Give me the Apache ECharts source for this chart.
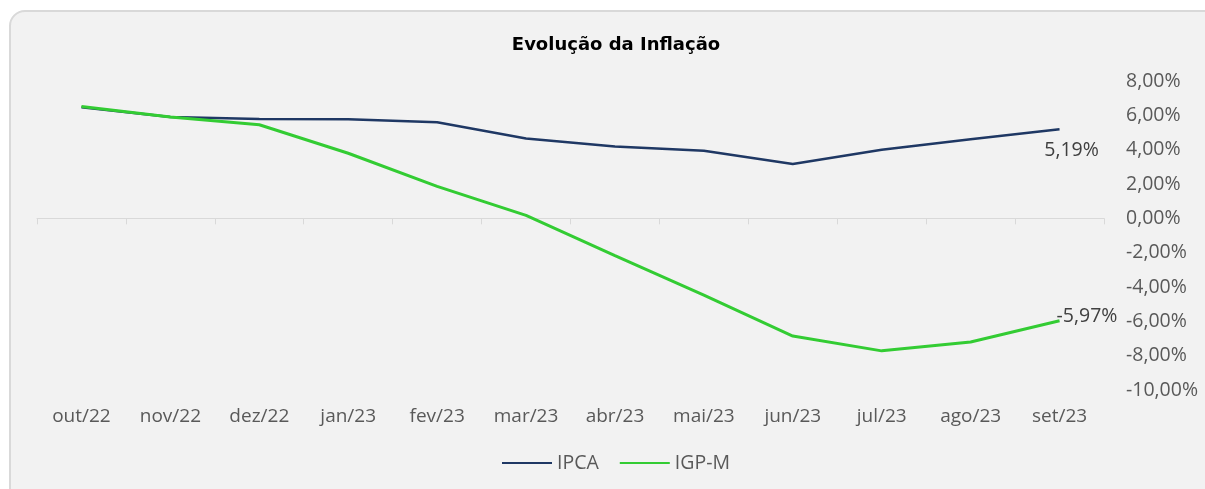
<!DOCTYPE html>
<html>
<head>
<meta charset="utf-8">
<script src="https://cdn.jsdelivr.net/npm/echarts@6/dist/echarts.min.js"></script>
<style>
  html, body { margin: 0; padding: 0; background: #fff; overflow: hidden; }
  .frame {
    position: absolute; left: 9px; top: 10px; width: 1220px; height: 500px;
    background: #f2f2f2; border: 2px solid #d9d9d9; border-radius: 16px;
    box-sizing: border-box;
  }
  #chart { position: absolute; left: 0; top: 0; width: 1205px; height: 489px; }
</style>
</head>
<body>
<div class="frame"></div>
<div id="chart"></div>
<script>
const months = ['out/22', 'nov/22', 'dez/22', 'jan/23', 'fev/23', 'mar/23', 'abr/23', 'mai/23', 'jun/23', 'jul/23', 'ago/23', 'set/23']
const ipca = [6.47, 5.90, 5.79, 5.77, 5.60, 4.65, 4.18, 3.94, 3.16, 3.99, 4.61, 5.19]
const igpm = [6.52, 5.90, 5.45, 3.79, 1.86, 0.17, -2.17, -4.47, -6.86, -7.72, -7.20, -5.97]

const fmt = v => v.toFixed(2).replace('.', ',') + '%'
const labelFont = '"Open Sans", "Noto Sans", sans-serif'

const chart = echarts.init(document.getElementById('chart'))

// rótulo só no último ponto
const lastLabel = (arr, label) => arr.map((v, i) => i === arr.length - 1
  ? { value: v, label: Object.assign({ show: true, formatter: p => fmt(p.value), color: '#404040', fontSize: 19.5, fontFamily: labelFont }, label) }
  : v)

chart.setOption({
  animation: false,
  title: {
    text: 'Evolução da Inflação',
    left: 611,
    textAlign: 'center',
    top: 31,
    textStyle: { fontFamily: '"DejaVu Sans", sans-serif', fontSize: 18, fontWeight: 'bold', color: '#000' }
  },
  legend: {
    top: 448,
    left: 497,
    itemWidth: 50,
    itemHeight: 2,
    itemGap: 21,
    icon: 'rect',
    textStyle: { fontFamily: labelFont, fontSize: 19.5, color: '#595959' },
    data: ['IPCA', 'IGP-M']
  },
  grid: { left: 37, right: 101, top: 81, bottom: 99 },
  xAxis: [
    {
      type: 'category',
      data: months,
      boundaryGap: true,
      axisLine: { onZero: true, lineStyle: { color: '#d9d9d9', width: 1 } },
      axisTick: { show: true, length: 6, lineStyle: { color: '#d9d9d9' } },
      axisLabel: { show: false }
    },
    {
      type: 'category',
      data: months,
      position: 'bottom',
      boundaryGap: true,
      axisLine: { show: false },
      axisTick: { show: false },
      axisLabel: { margin: 17, color: '#595959', fontSize: 19, fontFamily: labelFont }
    }
  ],
  yAxis: {
    type: 'value',
    position: 'right',
    min: -10,
    max: 8,
    interval: 2,
    splitLine: { show: false },
    axisLine: { show: false },
    axisTick: { show: false },
    axisLabel: { margin: 22, color: '#595959', fontSize: 19.5, fontFamily: labelFont, formatter: v => fmt(v) }
  },
  series: [
    {
      name: 'IPCA',
      type: 'line',
      data: lastLabel(ipca, { position: 'bottom', offset: [12, 6] }),
      symbol: 'circle',
      symbolSize: 0,
      lineStyle: { color: '#1f3864', width: 2.5 },
      itemStyle: { color: '#1f3864' },
      z: 2
    },
    {
      name: 'IGP-M',
      type: 'line',
      data: lastLabel(igpm, { position: 'right', offset: [-8, -4] }),
      symbol: 'circle',
      symbolSize: 0,
      lineStyle: { color: '#33cc33', width: 3 },
      itemStyle: { color: '#33cc33' },
      z: 3
    }
  ]
})
</script>
</body>
</html>
